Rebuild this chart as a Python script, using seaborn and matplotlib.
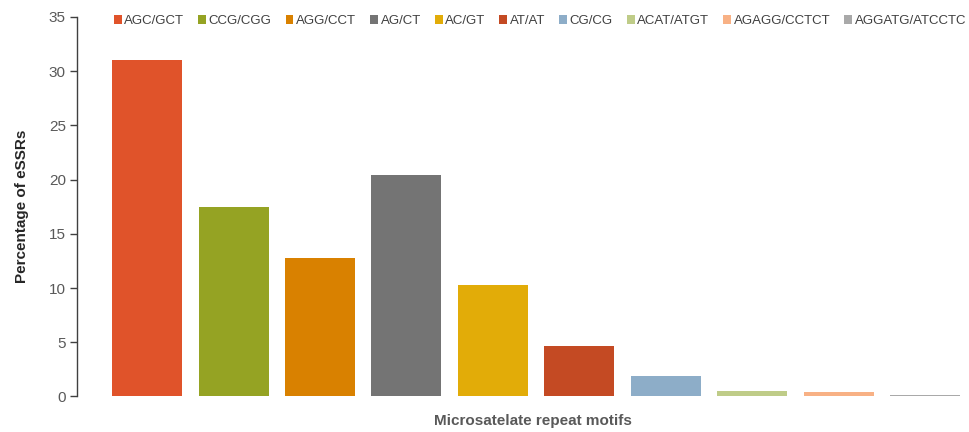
import matplotlib
matplotlib.use("Agg")
import matplotlib.pyplot as plt
from matplotlib.patches import Patch
import seaborn as sns
import pandas as pd

motifs = ["AGC/GCT", "CCG/CGG", "AGG/CCT", "AG/CT", "AC/GT", "AT/AT",
          "CG/CG", "ACAT/ATGT", "AGAGG/CCTCT", "AGGATG/ATCCTC"]
percentages = [31.0, 17.5, 12.8, 20.4, 10.3, 4.7, 1.9, 0.55, 0.42, 0.17]
colors = ["#E0532A", "#95A323", "#D98100", "#747474", "#E2AC08", "#C44A23",
          "#8DADC8", "#BFCC88", "#F8B185", "#A9A9A9"]

df = pd.DataFrame({"motif": motifs, "pct": percentages})

sns.set_theme(style="white")
plt.rcParams["font.family"] = ["Liberation Sans", "DejaVu Sans"]

fig = plt.figure(figsize=(9.69, 4.32), dpi=100)
ax = fig.add_axes([0.0795, 0.0822, 0.92, 0.8785])

sns.barplot(data=df, x="motif", y="pct", hue="motif", palette=colors,
            order=motifs, hue_order=motifs, dodge=False, width=0.81,
            legend=False, saturation=1, edgecolor="none", ax=ax)

ax.set_ylim(0, 35)
ax.set_xlim(-0.81, 9.5)
ax.set_yticks(range(0, 36, 5))
ax.set_xticks([])
ax.tick_params(axis="y", which="both", left=True, length=5, width=1,
               color="#404040", labelsize=11, labelcolor="#595959", pad=3)
for side in ["top", "right", "bottom"]:
    ax.spines[side].set_visible(False)
ax.spines["left"].set_color("#404040")
ax.spines["left"].set_linewidth(1)

ax.set_ylabel("Percentage of eSSRs", fontsize=11, fontweight="bold",
              color="#262626", labelpad=14)
ax.set_xlabel("Microsatelate repeat motifs", fontsize=11, fontweight="bold",
              color="#595959", va="center")
ax.xaxis.set_label_coords(0.5115, -0.0646)

handles = [Patch(facecolor=c, edgecolor="none", label=m)
           for m, c in zip(motifs, colors)]
fig.legend(handles=handles, loc="center", ncol=10,
           bbox_to_anchor=(540 / 969, 1 - 21 / 432), frameon=False,
           fontsize=9.5, handlelength=0.6, handleheight=0.6,
           handletextpad=0.2, columnspacing=1.05, labelcolor="#404040",
           borderpad=0, borderaxespad=0)

fig.savefig("out.png", dpi=100)
